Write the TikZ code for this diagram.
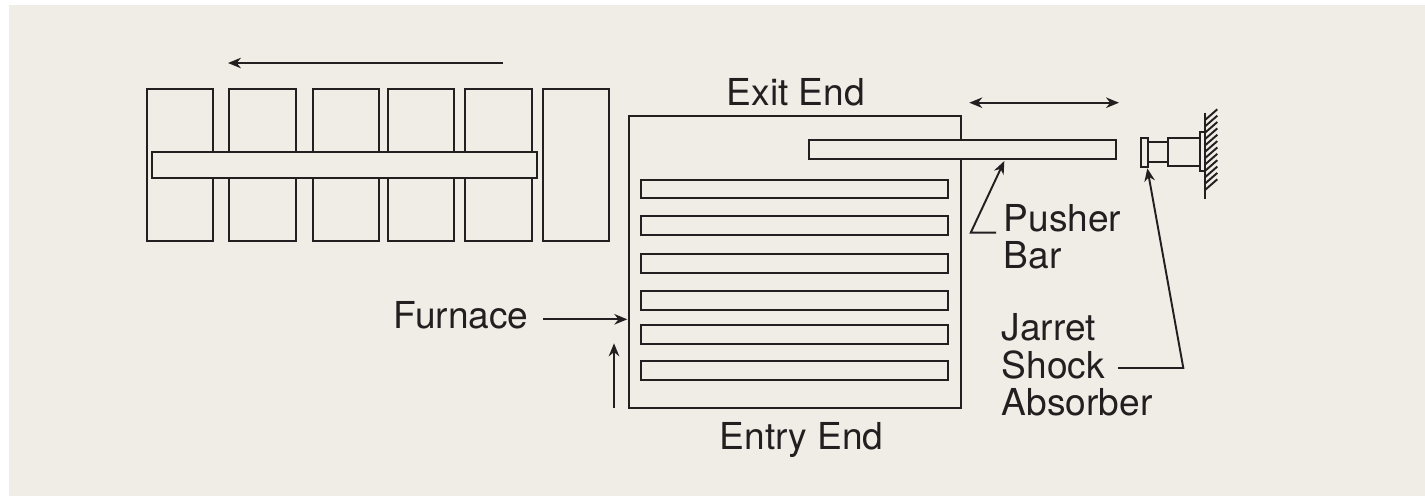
\documentclass[tikz,border=0pt]{standalone}
\usepackage{fontspec}
\setmainfont{TeX Gyre Heros}
\usetikzlibrary{arrows.meta}
\definecolor{paper}{RGB}{240,237,230}
\definecolor{ink}{RGB}{35,31,32}
\tikzset{
    part/.style 2 args={draw=ink,fill=paper,line width=0.55pt,inner sep=0pt,outer sep=0pt,
        minimum width=#1*0.01cm,minimum height=#2*0.01cm},
    label/.style={inner sep=0pt,anchor=base west,text=ink,font=\fontsize{10.55}{10.7}\selectfont},
    pointer/.style={draw=ink,line width=0.55pt,-{Stealth[length=3.7pt,width=3pt]}},
    leader/.style={draw=ink,line width=0.55pt,line join=miter}
}
\begin{document}
\begin{tikzpicture}[x=0.01cm,y=-0.01cm]
        \useasboundingbox (0,0) rectangle (1425,496);
        \fill [paper] (9,5) rectangle (1425,496);
        % cars on the left, the long bar goes over them
        \foreach \n/\x in {1/180,2/262.5,3/345.8,4/421,5/498.4,6/576.2}
            \node [part={66.4}{151.6}] (car\n) at (\x,164.9) {};
        \node [part={385.3}{26.6}] (longbar) at (344.6,165) {};
        \node [part={332}{292}] (furnace) at (794.9,262.3) {};
        \foreach \n/\y in {1/189,2/225.8,3/263.7,4/300.5,5/334.3,6/370.5}
            \node [part={307}{18.8}] (rail\n) at (794.2,\y) {};
        \node [part={306.7}{19}] (pusher) at (962.3,149.8) {};
        % shock absorber and wall
        \node [part={7.6}{29.6}] (plate) at (1144.5,152.5) {};
        \node [part={19.4}{20.3}] (neck) at (1158,152.2) {};
        \node [part={32.3}{27.7}] (body) at (1183.9,152.2) {};
        \node [part={5}{39}] (flange) at (1202.5,151.2) {};
        \draw [leader] (1205,112.7) -- (1205,199);
        \foreach \y in {0,...,11}
            \draw [leader] (1205,120+\y*6.36) -- ++(12.3,-10.7);
        % labels
        \node [label] (exitlabel) at (726,105) {Exit End};
        \node [label] (entrylabel) at (719,449) {Entry End};
        \node [label] (furnacelabel) at (393,328) {Furnace};
        \node [label] (pusherlabel) at (1003,231) {Pusher};
        \node [label] (barlabel) at (1003,268) {Bar};
        \node [label] (jarretlabel) at (1001,340) {Jarret};
        \node [label] (shocklabel) at (1001,378) {Shock};
        \node [label] (absorberlabel) at (1001,415) {Absorber};
        % arrows
        \coordinate (traystart) at (503,63);
        \coordinate (trayend) at (228,63);
        \coordinate (strokeleft) at (969.3,102.7);
        \coordinate (strokeright) at (1119,102.7);
        \coordinate (feedstart) at (614,408.3);
        \coordinate (feedend) at (614,343.3);
        \coordinate (furnacetail) at (543.3,319.3);
        \coordinate (furnacetip) at (627.3,319.3);
        \coordinate (pusherend) at (996,232.7);
        \coordinate (pusherbend) at (970.7,232.7);
        \coordinate (pushertip) at (1004.3,161);
        \coordinate (shockend) at (1118,368);
        \coordinate (shockbend) at (1183.3,368);
        \coordinate (shocktip) at (1147.3,168.3);
        \draw [pointer] (traystart) -- (trayend);
        \draw [pointer,{Stealth[length=3.7pt,width=3pt]}-{Stealth[length=3.7pt,width=3pt]}] (strokeleft) -- (strokeright);
        \draw [pointer] (feedstart) -- (feedend);
        \draw [pointer] (furnacetail) -- (furnacetip);
        \draw [pointer] (pusherend) -- (pusherbend) -- (pushertip);
        \draw [pointer] (shockend) -- (shockbend) -- (shocktip);
    \end{tikzpicture}
\end{document}
